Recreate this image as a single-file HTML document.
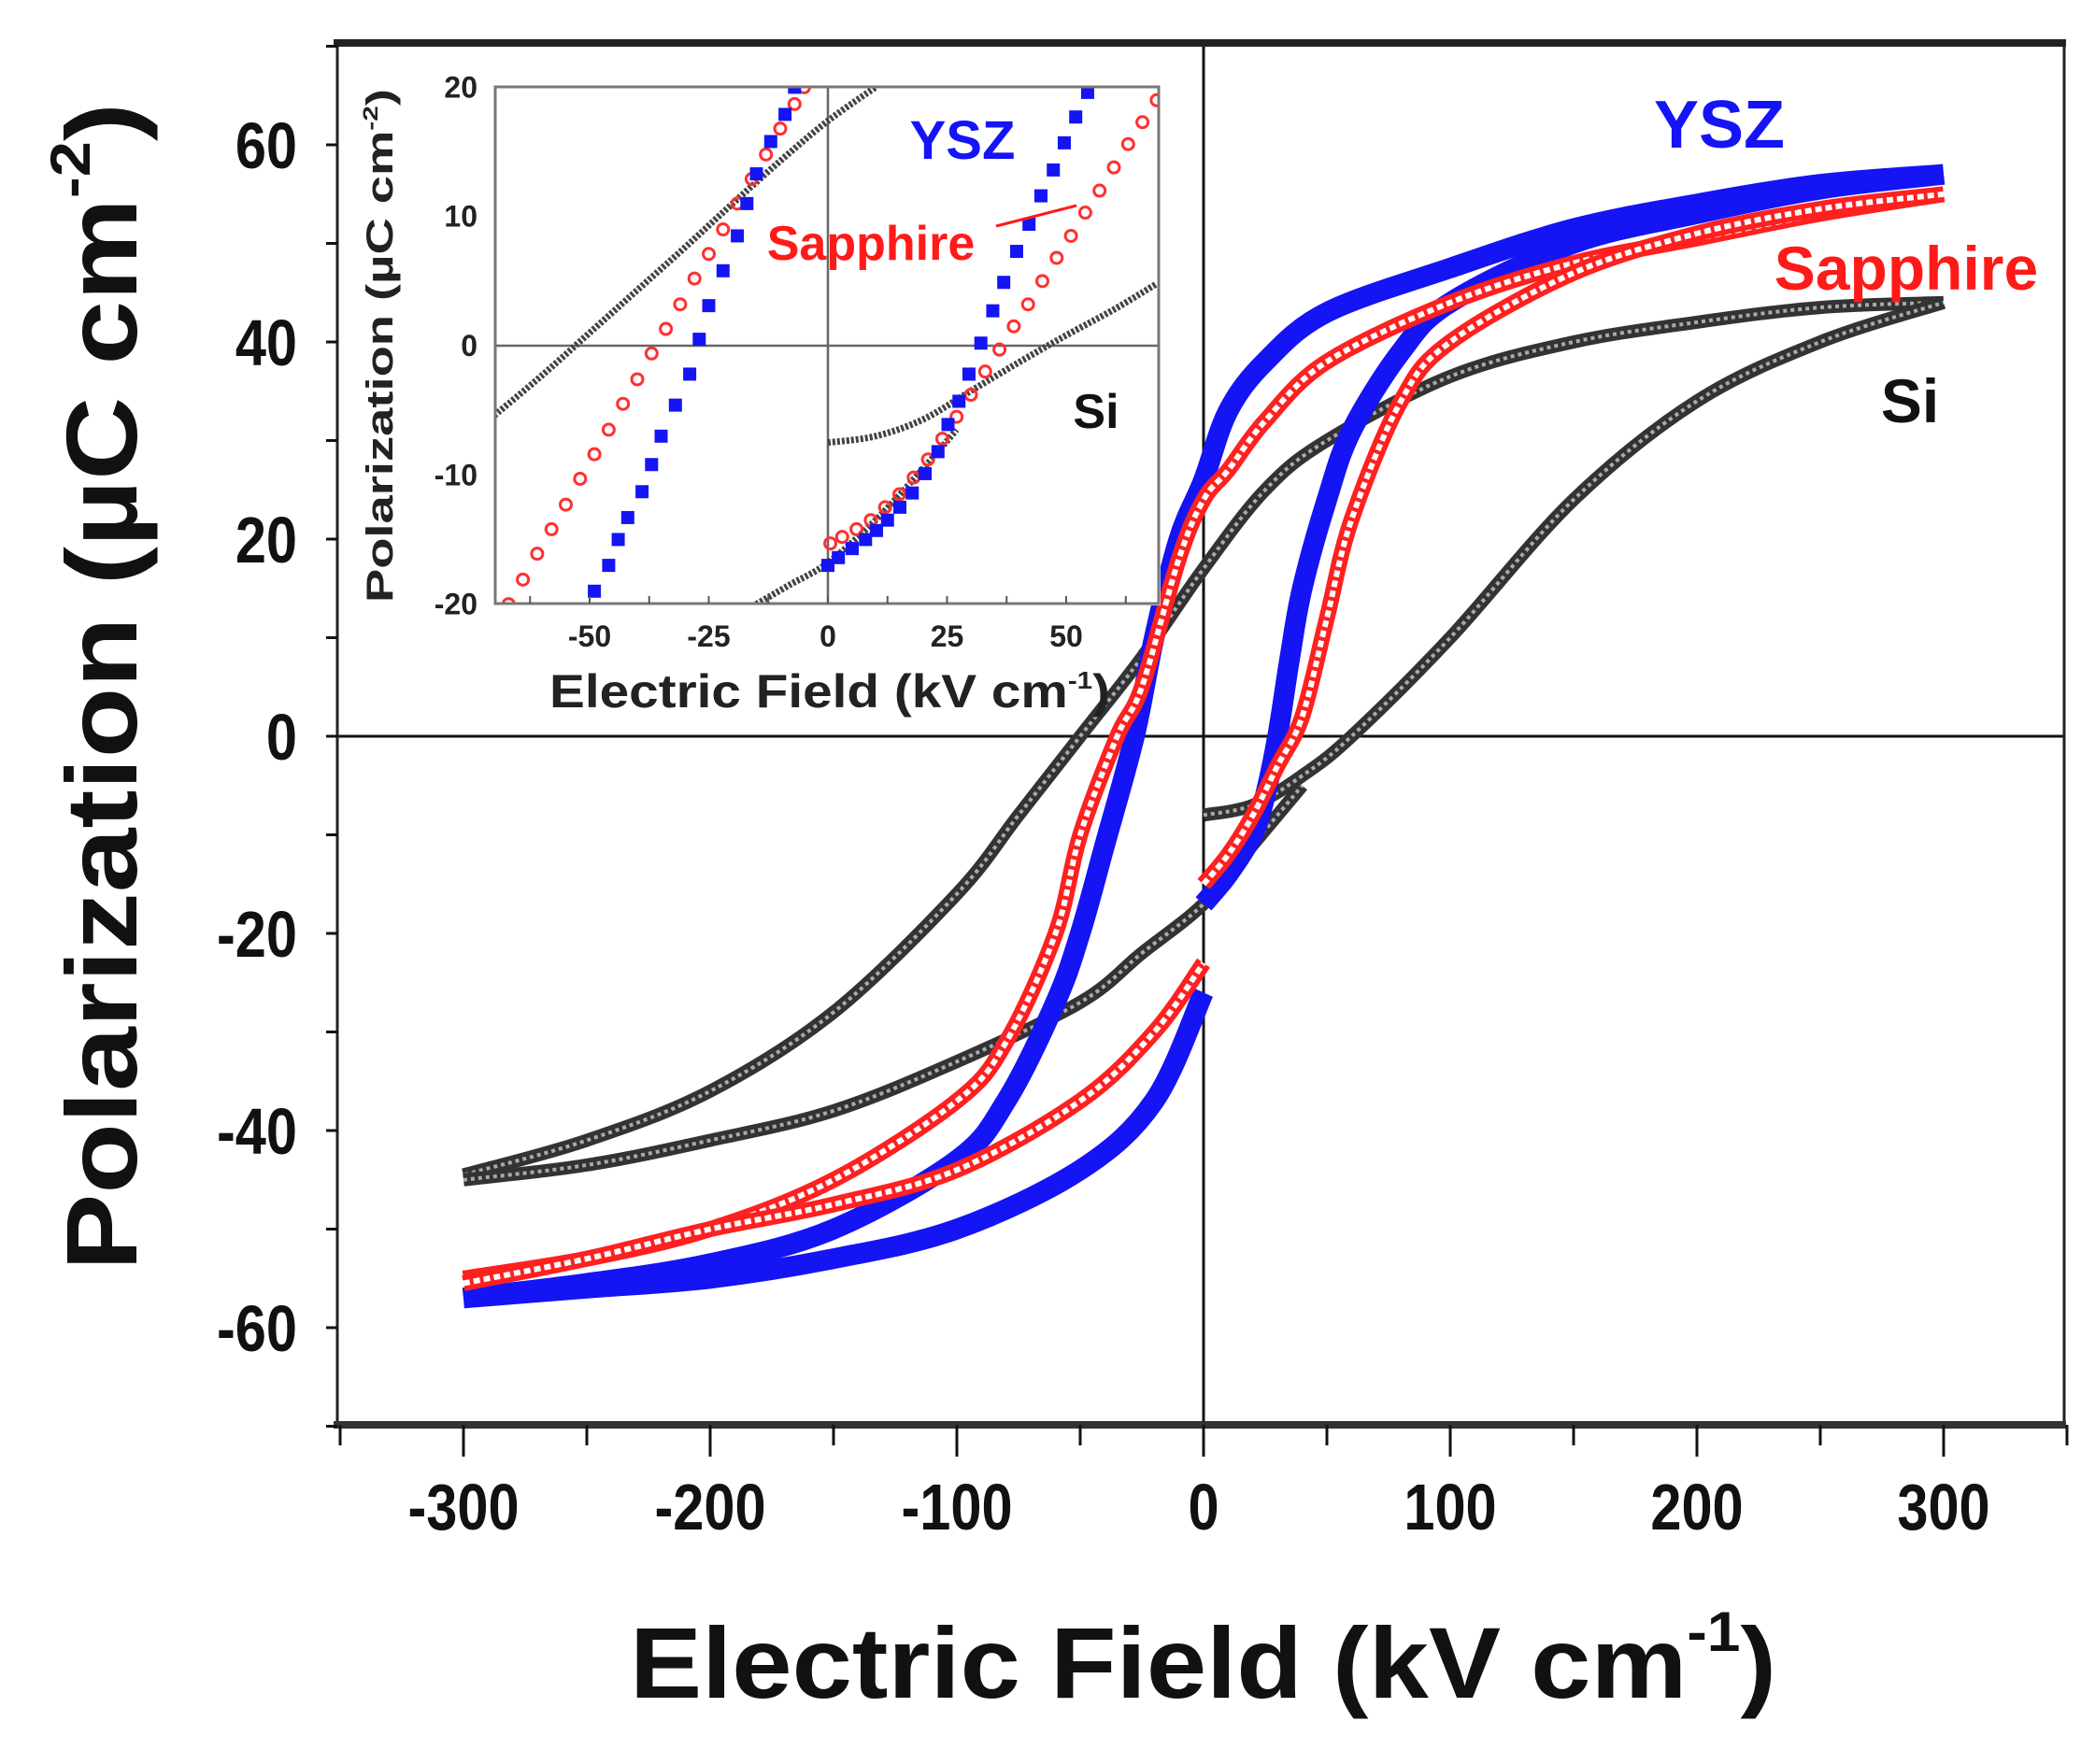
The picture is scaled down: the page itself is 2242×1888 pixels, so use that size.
<!DOCTYPE html>
<html><head><meta charset="utf-8"><style>
html,body{margin:0;padding:0;background:#fff}
svg{display:block}
text{font-family:"Liberation Sans",Arial,sans-serif;font-weight:bold}
</style></head><body>
<svg id="chart" width="2242" height="1888" viewBox="0 0 2242 1888" xmlns="http://www.w3.org/2000/svg">
<g id="main"></g>
<g id="inset"></g>
</svg>
<script>
// ---- main chart data (E in kV/cm, P in uC/cm2) ----
const yszUpperE = [300,250,200,150,100,50,25,10,0,-10,-20,-28,-40,-50,-60,-80,-100,-150,-200,-250,-300];
const yszUpperP = [57,56,54,51.5,47.5,43,38,33,26,20,10,0,-11,-20,-27,-37,-43,-50,-53.5,-55.5,-57];
const yszLowLE = [-300,-250,-200,-150,-100,-50,-20,0];
const yszLowLP = [-57,-56,-55,-53,-50,-44,-37,-26];
const yszLowRE = [0,10,20,25,30,35,40,50,60,80,100,150,200,250,300];
const yszLowRP = [-17,-14,-10,-6,0,8,15,24,31,39,44,50,53,55.5,57];

const sapUpperE = [300,250,200,150,100,50,25,10,0,-10,-25,-35,-50,-60,-80,-100,-150,-200,-250,-300];
const sapUpperP = [55,53,50.5,48,44,38,32,27,24,18,5,0,-10,-20,-31,-37,-45,-50,-53,-55];
const sapLowLE = [-300,-250,-200,-150,-100,-50,-20,0];
const sapLowLP = [-55.5,-53,-50,-47.5,-44,-37,-30,-23];
const sapLowRE = [0,10,20,30,40,50,60,80,100,150,200,250,300];
const sapLowRP = [-15,-12,-8,-3,2,12,22,34,40,47,51,53.5,55];

const siUpperE = [300,250,200,150,100,50,25,0,-25,-50,-75,-100,-150,-200,-250,-300];
const siUpperP = [44,43.5,42,40,36.5,30,25,17,8,0,-8,-16,-28,-36,-41,-44.5];
const siLowLE = [-300,-250,-200,-150,-100,-50,-25,0,20,40];
const siLowLP = [-45,-43.5,-41,-38,-33,-27,-22,-17,-11,-5];
const siLowRE = [0,20,40,60,100,150,200,250,300];
const siLowRP = [-8,-7,-4,0,10,24,34,40,44];

const mainXTicks = [-300,-200,-100,0,100,200,300];
const mainYTicks = [60,40,20,0,-20,-40,-60];

// ---- inset data ----
const inYszLE = [-49,-46,-44,-42,-39,-37,-35,-32,-29,-27,-25,-22,-19,-17,-15,-12,-9,-7];
const inYszLP = [-19,-17,-15,-13.3,-11.3,-9.2,-7,-4.6,-2.2,0.5,3.1,5.8,8.5,11,13.3,15.8,17.9,20];
const inYszRE = [0,2.2,5.1,7.9,10.2,12.5,15.1,17.7,20.4,23.1,25.2,27.5,29.6,32.1,34.6,36.9,39.6,42.2,44.7,47.3,49.6,52,54.5];
const inYszRP = [-17,-16.4,-15.7,-15,-14.3,-13.5,-12.5,-11.4,-9.9,-8.2,-6.1,-4.3,-2.2,0.2,2.7,4.9,7.3,9.4,11.6,13.6,15.7,17.7,19.6];
const inSapLE = [-67,-64,-61,-58,-55,-52,-49,-46,-43,-40,-37,-34,-31,-28,-25,-22,-19,-16,-13,-10,-7,-5];
const inSapLP = [-20,-18.1,-16.1,-14.2,-12.3,-10.3,-8.4,-6.5,-4.5,-2.6,-0.6,1.3,3.2,5.2,7.1,9,11,12.9,14.8,16.8,18.7,20];
const inSapRE = [0.5,3,6,9,12,15,18,21,24,27,30,33,36,39,42,45,48,51,54,57,60,63,66,69];
const inSapRP = [-15.3,-14.8,-14.2,-13.5,-12.5,-11.5,-10.2,-8.8,-7.2,-5.5,-3.8,-2,-0.3,1.5,3.2,5,6.8,8.5,10.3,12,13.8,15.6,17.3,19];
const inSiUE = [-70,-60,-50,-40,-30,-20,-10,0,10];
const inSiUP = [-5.4,-2.3,1,4.3,7.6,11,14.3,17.4,20];
const inSiLE = [-15,-8,0,10,20,27];
const inSiLP = [-20,-18.5,-16.8,-13.5,-9.5,-6.5];
const inSiVE = [0,10,20,30,40,50,60,69];
const inSiVP = [-7.5,-7,-5.7,-3.5,-1.3,0.8,2.8,4.8];
const inXTicks = [-50,-25,0,25,50];
const inYTicks = [20,10,0,-10,-20];

const NS = "http://www.w3.org/2000/svg";
function mk(tag, attrs, parent){const e=document.createElementNS(NS,tag);for(const k in attrs)e.setAttribute(k,attrs[k]);parent.appendChild(e);return e;}

const M = {l:361,r:2209,t:46,b:1525};
const mx = v => 1288 + v*2.64;
const my = v => 788 - v*10.55;
const I = {l:530,r:1240,t:93,b:646};
const ix = v => 886 + v*5.1;
const iy = v => 370 - v*13.83;

function smoothPath(X,Y,fx,fy){
  const p = X.map((x,i)=>[fx(x),fy(Y[i])]);
  let d = "M"+p[0][0].toFixed(1)+","+p[0][1].toFixed(1);
  for(let i=0;i<p.length-1;i++){
    const p0=p[Math.max(i-1,0)],p1=p[i],p2=p[i+1],p3=p[Math.min(i+2,p.length-1)];
    const c1=[p1[0]+(p2[0]-p0[0])/6,p1[1]+(p2[1]-p0[1])/6];
    const c2=[p2[0]-(p3[0]-p1[0])/6,p2[1]-(p3[1]-p1[1])/6];
    d+="C"+c1[0].toFixed(1)+","+c1[1].toFixed(1)+" "+c2[0].toFixed(1)+","+c2[1].toFixed(1)+" "+p2[0].toFixed(1)+","+p2[1].toFixed(1);
  }
  return d;
}

const g = document.getElementById('main');
let e;
e = mk('line',{x1:mx(0),x2:mx(0),y1:M.t,y2:M.b,stroke:'#111','stroke-width':3},g);


e = mk('line',{x1:M.l,x2:M.r,y1:my(0),y2:my(0),stroke:'#111','stroke-width':3},g);



function drawSeries(parent, X, Y, style, name){
  const d = smoothPath(X,Y,mx,my);
  const grp = mk('g',{},parent);
  
  
  if(style==='ysz'){
    mk('path',{d:d,fill:'none',stroke:'#1414f5','stroke-width':22,'stroke-linejoin':'round'},grp);
  } else if(style==='sap'){
    mk('path',{d:d,fill:'none',stroke:'#ff2020','stroke-width':17,'stroke-linejoin':'round'},grp);
    mk('path',{d:d,fill:'none',stroke:'#fff','stroke-width':6,'stroke-dasharray':'7 4'},grp);
  } else {
    mk('path',{d:d,fill:'none',stroke:'#333','stroke-width':14,'stroke-linejoin':'round'},grp);
    mk('path',{d:d,fill:'none',stroke:'#aaa','stroke-width':4,'stroke-dasharray':'4 4'},grp);
  }
}
drawSeries(g,siUpperE,siUpperP,'si','si-upper-branch');
drawSeries(g,siLowLE,siLowLP,'si','si-lower-branch');
drawSeries(g,siLowRE,siLowRP,'si','si-initial-branch');
drawSeries(g,yszUpperE,yszUpperP,'ysz','ysz-upper-branch');
drawSeries(g,yszLowLE,yszLowLP,'ysz','ysz-lower-branch');
drawSeries(g,yszLowRE,yszLowRP,'ysz','ysz-initial-branch');
drawSeries(g,sapUpperE,sapUpperP,'sap','sapphire-upper-branch');
drawSeries(g,sapLowLE,sapLowLP,'sap','sapphire-lower-branch');
drawSeries(g,sapLowRE,sapLowRP,'sap','sapphire-initial-branch');

e = mk('rect',{x:M.l,y:M.t,width:M.r-M.l,height:M.b-M.t,fill:'none',stroke:'#222','stroke-width':3},g);


mk('line',{x1:M.l-4,x2:M.r+2,y1:M.t,y2:M.t,stroke:'#222','stroke-width':8},g);
mk('line',{x1:M.l-4,x2:M.r+2,y1:M.b,y2:M.b,stroke:'#333','stroke-width':8},g);

for(let v=-350; v<=350; v+=50){
  const major = (v%100===0);
  mk('line',{x1:mx(v),x2:mx(v),y1:M.b,y2:M.b+(major?34:22),stroke:'#111','stroke-width':3},g);
}
mainXTicks.forEach(v=>{
  const t = mk('text',{x:mx(v),y:1637,'font-size':70,'text-anchor':'middle',fill:'#111','transform':`translate(${mx(v)},0) scale(0.85,1) translate(${-mx(v)},0)`},g);
  t.textContent = v;
  
  
});
for(let v=-70; v<=70; v+=10){
  mk('line',{x1:M.l-12,x2:M.l,y1:my(v),y2:my(v),stroke:'#111','stroke-width':3},g);
}
mainYTicks.forEach(v=>{
  const t = mk('text',{x:318,y:my(v)+25,'font-size':70,'text-anchor':'end',fill:'#111','transform':`translate(318,0) scale(0.85,1) translate(-318,0)`},g);
  t.textContent = v;
  
  
});

e = mk('text',{x:674,y:1817,'font-size':108,textLength:1227,lengthAdjust:'spacingAndGlyphs',fill:'#111'},g);
e.innerHTML = 'Electric Field (kV cm<tspan dy="-50" font-size="60">-1</tspan><tspan dy="50">)</tspan>';


e = mk('text',{x:0,y:0,'font-size':108,textLength:1250,lengthAdjust:'spacingAndGlyphs',fill:'#111','text-anchor':'middle',transform:'translate(146,735) rotate(-90)'},g);
e.innerHTML = 'Polarization (µC cm<tspan dy="-50" font-size="60">-2</tspan><tspan dy="50">)</tspan>';



e = mk('text',{x:1840,y:158,'font-size':72,'text-anchor':'middle',fill:'#1414f5'},g); e.textContent='YSZ';
 
e = mk('text',{x:2040,y:310,'font-size':66,'text-anchor':'middle',fill:'#ff1a1a'},g); e.textContent='Sapphire';
 
e = mk('text',{x:2044,y:452,'font-size':66,'text-anchor':'middle',fill:'#111'},g); e.textContent='Si';
 

// ---- inset ----
const gi = document.getElementById('inset');


mk('rect',{x:I.l-2,y:I.t-2,width:I.r-I.l+4,height:I.b-I.t+4,fill:'#fff'},gi);
mk('clipPath',{id:'ic'},gi);
mk('rect',{x:I.l,y:I.t,width:I.r-I.l,height:I.b-I.t},document.getElementById('ic'));
mk('line',{x1:ix(0),x2:ix(0),y1:I.t,y2:I.b,stroke:'#666','stroke-width':2.5},gi);
mk('line',{x1:I.l,x2:I.r,y1:iy(0),y2:iy(0),stroke:'#666','stroke-width':2.5},gi);
const ig = mk('g',{'clip-path':'url(#ic)'},gi);
function inLine(X,Y,name){
  const p = mk('path',{d:smoothPath(X,Y,ix,iy),fill:'none',stroke:'#444','stroke-width':7,'stroke-dasharray':'3 2'},ig);
  
  
}
inLine(inSiUE,inSiUP,'inset-si-upper');
inLine(inSiLE,inSiLP,'inset-si-lower');
inLine(inSiVE,inSiVP,'inset-si-initial');
function inSap(X,Y){
  X.forEach((x,i)=>{
    const c = mk('circle',{cx:ix(x),cy:iy(Y[i]),r:6,fill:'none',stroke:'#ff3030','stroke-width':3},ig);
    
    
  });
}
function inYsz(X,Y){
  X.forEach((x,i)=>{
    const s = mk('rect',{x:ix(x)-7,y:iy(Y[i])-7,width:14,height:14,fill:'#1414f5'},ig);
    
    
  });
}
inSap(inSapLE,inSapLP); inSap(inSapRE,inSapRP);
inYsz(inYszLE,inYszLP); inYsz(inYszRE,inYszRP);
e = mk('rect',{x:I.l,y:I.t,width:I.r-I.l,height:I.b-I.t,fill:'none',stroke:'#777','stroke-width':3},gi);
 
for(let v=-62.5; v<=70; v+=12.5){
  mk('line',{x1:ix(v),x2:ix(v),y1:I.b,y2:I.b-8,stroke:'#555','stroke-width':2},gi);
}
inXTicks.forEach(v=>{
  const t = mk('text',{x:ix(v),y:692,'font-size':32,'text-anchor':'middle',fill:'#222'},gi);
  t.textContent=v;
   
});
inYTicks.forEach(v=>{
  const t = mk('text',{x:511,y:iy(v)+11,'font-size':32,'text-anchor':'end',fill:'#222'},gi);
  t.textContent=v;
   
});
e = mk('text',{x:588,y:757,'font-size':50,textLength:600,lengthAdjust:'spacingAndGlyphs',fill:'#222'},gi);
e.innerHTML='Electric Field (kV cm<tspan dy="-20" font-size="26">-1</tspan><tspan dy="20">)</tspan>';
 
e = mk('text',{x:0,y:0,'font-size':40,textLength:550,lengthAdjust:'spacingAndGlyphs','text-anchor':'middle',fill:'#222',transform:'translate(420,370) rotate(-90)'},gi);
e.innerHTML='Polarization (µC cm<tspan dy="-16" font-size="22">-2</tspan><tspan dy="16">)</tspan>';
 
e = mk('text',{x:1030,y:170,'font-size':58,'text-anchor':'middle',fill:'#1414f5'},gi); e.textContent='YSZ';
 
e = mk('text',{x:932,y:278,'font-size':52,'text-anchor':'middle',fill:'#ff1a1a'},gi); e.textContent='Sapphire';
 
e = mk('line',{x1:1066,y1:242,x2:1152,y2:220,stroke:'#ff1a1a','stroke-width':3},gi);
 
e = mk('text',{x:1173,y:458,'font-size':52,'text-anchor':'middle',fill:'#111'},gi); e.textContent='Si';
 
</script>
</body></html>
